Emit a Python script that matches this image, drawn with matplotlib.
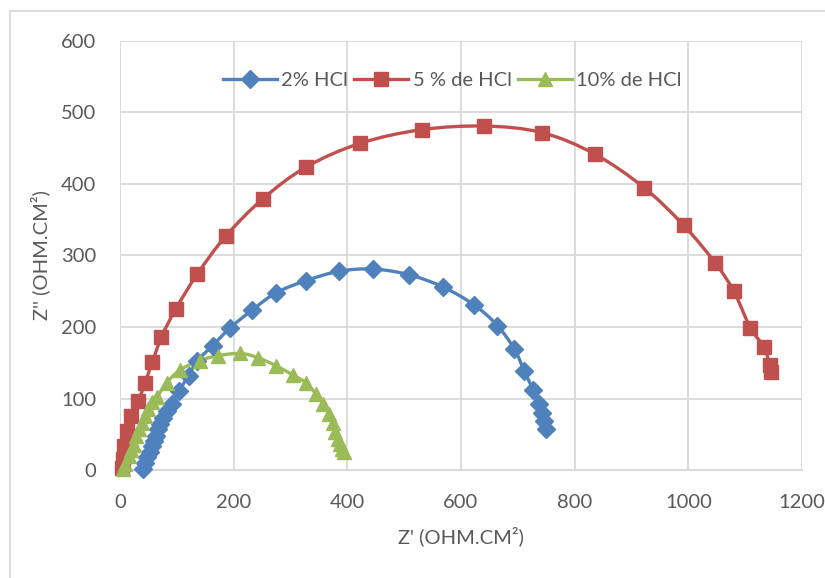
import matplotlib.pyplot as plt
from matplotlib.path import Path
from matplotlib.patches import PathPatch, Rectangle
import numpy as np

hcl2_x = [41, 44, 48, 52, 56, 59, 63, 67, 71, 76, 83, 91, 103, 121, 135, 163, 194,
          233, 275, 328, 386, 446, 509, 568, 623, 664, 694, 711, 727, 738, 742, 746, 749]
hcl2_y = [2, 10, 18, 25, 33, 40, 48, 57, 65, 73, 82, 92, 110, 132, 152, 174, 199,
          224, 248, 265, 278, 281, 273, 256, 231, 202, 169, 139, 112, 92, 80, 68, 58]

hcl5_x = [3, 5, 7, 12, 20, 32, 44, 57, 73, 98, 136, 186, 251, 328, 423, 531, 641,
          742, 835, 922, 992, 1047, 1080, 1109, 1133, 1143, 1145]
hcl5_y = [3, 15, 33, 54, 75, 96, 122, 151, 186, 225, 274, 327, 379, 424, 457, 476, 481,
          472, 442, 395, 342, 290, 250, 199, 172, 147, 137]

hcl10_x = [5, 9, 15, 20, 24, 29, 33, 38, 44, 50, 57, 65, 82, 106, 140, 173, 212,
           243, 274, 304, 327, 345, 358, 367, 374, 379, 383, 387, 391, 395]
hcl10_y = [2, 8, 19, 28, 35, 47, 57, 66, 76, 85, 95, 102, 122, 140, 153, 160, 163,
           157, 146, 133, 122, 106, 92, 79, 66, 53, 43, 36, 30, 25]

series = [
    ('2% HCl', hcl2_x, hcl2_y, '#4F81BD', 'D', 9),
    ('5 % de HCl', hcl5_x, hcl5_y, '#C0504D', 's', 10),
    ('10% de HCl', hcl10_x, hcl10_y, '#9BBB59', '^', 10),
]


def smooth_path(x, y):
    # courbe lissée façon Excel (Bézier de Catmull-Rom)
    p = np.column_stack([x, y]).astype(float)
    verts = [p[0]]
    codes = [Path.MOVETO]
    for i in range(len(p) - 1):
        p0 = p[i - 1] if i > 0 else p[i]
        p3 = p[i + 2] if i + 2 < len(p) else p[i + 1]
        c1 = p[i] + (p[i + 1] - p0) / 6
        c2 = p[i + 1] - (p3 - p[i]) / 6
        verts += [c1, c2, p[i + 1]]
        codes += [Path.CURVE4] * 3
    return Path(verts, codes)


txt = '#595959'
grid = '#D9D9D9'
plt.rcParams['font.family'] = ['Lato', 'DejaVu Sans']

fig = plt.figure(figsize=(8.25, 5.78), dpi=100)
ax = fig.add_axes([120 / 825, 1 - 470 / 578, 682 / 825, 429 / 578])

for label, x, y, c, m, ms in series:
    ax.add_patch(PathPatch(smooth_path(x, y), facecolor='none', edgecolor=c,
                           lw=2.4, zorder=3, clip_on=False))
    ax.plot(x, y, linestyle='none', marker=m, color=c, markersize=ms, zorder=4,
            clip_on=False)
    ax.plot([], [], color=c, lw=2.4, marker=m, markersize=ms, label=label)

ax.set_xlim(0, 1200)
ax.set_ylim(0, 600)
ax.set_xticks(range(0, 1201, 200))
ax.set_yticks(range(0, 601, 100))
ax.grid(True, color=grid, lw=1.3)
ax.set_axisbelow(True)
for s in ['top', 'right', 'left']:
    ax.spines[s].set_visible(False)
ax.spines['bottom'].set_color(grid)
ax.spines['bottom'].set_linewidth(1.3)
ax.tick_params(length=0, labelsize=14.5, colors=txt, pad=17)
ax.tick_params(axis='y', pad=17)

ax.set_xlabel("Z' (OHM.CM²)", fontsize=14.5, color=txt, labelpad=11)
ax.set_ylabel("Z'' (OHM.CM²)", fontsize=14.5, color=txt, labelpad=8)

ax.legend(loc='center', bbox_to_anchor=(0.487, 0.909), ncol=3, frameon=False,
          fontsize=14.5, labelcolor=txt, handlelength=2.7, handletextpad=0.2,
          columnspacing=0.3)

# cadre du graphique
fig.patches.append(Rectangle((10 / 825, -0.1), 1, 1 - 11 / 578 + 0.1,
                             transform=fig.transFigure, fill=False,
                             edgecolor=grid, lw=1.3))

fig.savefig('out.png', dpi=100)
